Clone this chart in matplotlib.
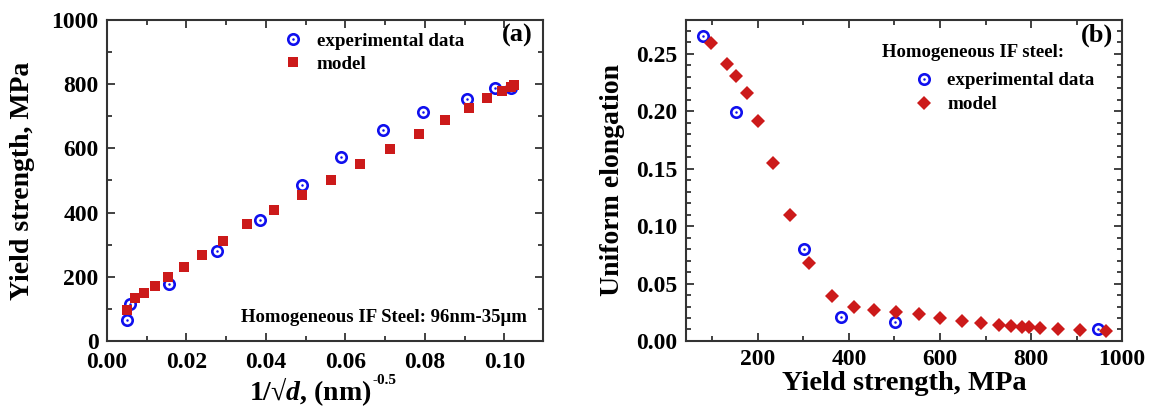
import matplotlib
matplotlib.use("Agg")
import matplotlib.pyplot as plt
from matplotlib.ticker import MultipleLocator, FormatStrFormatter
from matplotlib.lines import Line2D
import matplotlib.legend_handler

# ---- Panel (a) data ----
a_exp_x = [0.0051, 0.0058, 0.0156, 0.0277, 0.0384, 0.0490, 0.0590, 0.0695, 0.0796, 0.0907, 0.0977, 0.1017]
a_exp_y = [64, 114, 176, 280, 377, 487, 573, 656, 712, 755, 788, 788]
a_mod_x = [0.0051, 0.0070, 0.0093, 0.0121, 0.0154, 0.0193, 0.0240, 0.0293, 0.0353, 0.0420, 0.0490,
           0.0563, 0.0637, 0.0712, 0.0785, 0.0851, 0.0910, 0.0956, 0.0993, 0.1017, 0.1023]
a_mod_y = [95, 134, 150, 171, 199, 231, 268, 313, 363, 409, 455, 502, 551, 599, 646, 689, 727, 756, 779, 792, 797]

# ---- Panel (b) data ----
b_exp_x = [80, 152, 301, 382, 501, 948]
b_exp_y = [0.2657, 0.1993, 0.0798, 0.0209, 0.0162, 0.0102]
b_mod_x = [96, 133, 152, 175, 201, 233, 271, 313, 363, 410, 456, 504, 553, 601, 648, 690, 729, 757,
           780, 796, 820, 859, 908, 965]
b_mod_y = [0.2599, 0.2413, 0.2309, 0.2158, 0.1914, 0.1552, 0.1099, 0.0679, 0.0392, 0.0296, 0.0273,
           0.0252, 0.0235, 0.0200, 0.0177, 0.0157, 0.0142, 0.0133, 0.0125, 0.0125, 0.0116, 0.0104,
           0.0096, 0.0087]

plt.rcParams['font.family'] = 'Liberation Serif'
plt.rcParams['font.weight'] = 'bold'
plt.rcParams['mathtext.fontset'] = 'custom'
plt.rcParams['mathtext.rm'] = 'Liberation Serif:bold'
plt.rcParams['mathtext.it'] = 'Liberation Serif:bold:italic'
plt.rcParams['mathtext.bf'] = 'Liberation Serif:bold'

BLUE = '#1010ee'
RED = '#cc1a1a'
AXC = '#333333'

fig = plt.figure(figsize=(11.54, 4.09), dpi=100)
ax1 = fig.add_axes([0.0927, 0.1663, 0.3778, 0.7848])
ax2 = fig.add_axes([0.5945, 0.1663, 0.3778, 0.7848])


def style(ax, xpad):
    for s in ax.spines.values():
        s.set_linewidth(1.5)
        s.set_color(AXC)
    ax.tick_params(which='both', direction='in', top=True, right=True, colors=AXC,
                   labelcolor='black', labelsize=17, width=1.3)
    ax.tick_params(axis='y', which='both', pad=6)
    ax.tick_params(axis='x', which='both', pad=xpad)
    ax.tick_params(which='major', length=6)
    ax.tick_params(which='minor', length=3.5)
    for lab in ax.get_xticklabels() + ax.get_yticklabels():
        lab.set_fontweight('bold')


def exp_plot(ax, x, y):
    ax.plot(x, y, linestyle='none', marker='o', markersize=7.5, markerfacecolor='none',
            markeredgecolor=BLUE, markeredgewidth=1.9, zorder=3)
    ax.plot(x, y, linestyle='none', marker='o', markersize=1.8, markerfacecolor=BLUE,
            markeredgecolor=BLUE, markeredgewidth=0, zorder=3)


exp_handle = (Line2D([], [], linestyle='none', marker='o', markersize=7.5, markerfacecolor='none',
                     markeredgecolor=BLUE, markeredgewidth=1.9),
              Line2D([], [], linestyle='none', marker='o', markersize=1.8, markerfacecolor=BLUE,
                     markeredgewidth=0))
hmap = {tuple: matplotlib.legend_handler.HandlerTuple(ndivide=1)}

# ---- Panel (a) ----
exp_plot(ax1, a_exp_x, a_exp_y)
ax1.plot(a_mod_x, a_mod_y, linestyle='none', marker='s', markersize=7.6, color=RED,
         markeredgewidth=0, zorder=4)
ax1.set_xlim(0, 0.1097)
ax1.set_ylim(0, 1000)
ax1.xaxis.set_major_locator(MultipleLocator(0.02))
ax1.xaxis.set_minor_locator(MultipleLocator(0.01))
ax1.yaxis.set_major_locator(MultipleLocator(200))
ax1.yaxis.set_minor_locator(MultipleLocator(100))
ax1.xaxis.set_major_formatter(FormatStrFormatter('%.2f'))
style(ax1, 8)
ax1.set_ylabel('Yield strength, MPa', fontsize=20, fontweight='bold', labelpad=12)
xl = ax1.set_xlabel('1/\u221a$d$, (nm)', fontsize=20, fontweight='bold')
ax1.xaxis.set_label_coords(0.466, -0.108)
ax1.annotate('-0.5', xy=(1.0, 0.64), xycoords=xl, xytext=(1, 0), textcoords='offset points',
             fontsize=11, fontweight='bold', ha='left', va='bottom')
mod_handle_a = Line2D([], [], linestyle='none', marker='s', markersize=7.6, color=RED, markeredgewidth=0)
ax1.legend([exp_handle, mod_handle_a], ['experimental data', 'model'], loc='upper left',
           bbox_to_anchor=(0.365, 1.015), frameon=False, fontsize=13.7, handletextpad=0.75,
           labelspacing=0.3, handlelength=1.0, handler_map=hmap)
ax1.text(0.977, 0.953, '(a)', transform=ax1.transAxes, ha='right', va='center', fontsize=19,
         fontweight='bold')
ax1.text(0.963, 0.072, 'Homogeneous IF Steel: 96nm-35μm', transform=ax1.transAxes, ha='right',
         va='center', fontsize=13.5, fontweight='bold')

# ---- Panel (b) ----
exp_plot(ax2, b_exp_x, b_exp_y)
ax2.plot(b_mod_x, b_mod_y, linestyle='none', marker='D', markersize=7.3, color=RED,
         markeredgewidth=0, zorder=4)
ax2.set_xlim(42, 1000)
ax2.set_ylim(0, 0.2795)
ax2.xaxis.set_major_locator(MultipleLocator(200))
ax2.xaxis.set_minor_locator(MultipleLocator(100))
ax2.yaxis.set_major_locator(MultipleLocator(0.05))
ax2.yaxis.set_minor_locator(MultipleLocator(0.01))
ax2.yaxis.set_major_formatter(FormatStrFormatter('%.2f'))
style(ax2, 6)
ax2.set_ylabel('Uniform elongation', fontsize=20, fontweight='bold', labelpad=8)
ax2.set_xlabel('Yield strength, MPa', fontsize=20.5, fontweight='bold', labelpad=0.5)
mod_handle_b = Line2D([], [], linestyle='none', marker='D', markersize=7.3, color=RED, markeredgewidth=0)
ax2.legend([exp_handle, mod_handle_b], ['experimental data', 'model'], loc='upper left',
           bbox_to_anchor=(0.484, 0.891), frameon=False, fontsize=13.7, handletextpad=0.75,
           labelspacing=0.35, handlelength=1.0, handler_map=hmap)
ax2.text(0.45, 0.900, 'Homogeneous IF steel:', transform=ax2.transAxes, ha='left', va='center',
         fontsize=13.5, fontweight='bold')
ax2.text(0.979, 0.953, '(b)', transform=ax2.transAxes, ha='right', va='center', fontsize=19,
         fontweight='bold')

fig.savefig('out.png', dpi=100)
